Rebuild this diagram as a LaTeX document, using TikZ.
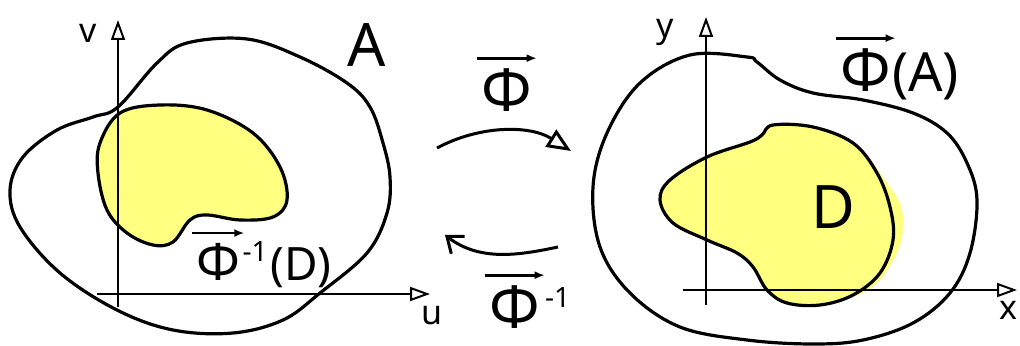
\documentclass[tikz,border=0pt]{standalone}
\usepackage{fontspec}
\setmainfont{Noto Sans}
\usetikzlibrary{arrows.meta}
\definecolor{blobyellow}{RGB}{255,255,128}

\begin{document}
\begin{tikzpicture}[
  x=0.5pt, y=-0.5pt,
  blob/.style={line width=1.6pt, line join=round},
  region/.style={fill=blobyellow, draw=none},
  axis/.style={line width=1pt, -{Triangle[open, length=10pt, width=7pt]}},
  maparr/.style={line width=1.5pt},
  vecbar/.style={line width=1.4pt, -{Latex[length=5pt, width=4pt]}},
  big/.style={inner sep=0pt, font=\fontsize{30}{36}\selectfont},
  mid/.style={inner sep=0pt, font=\fontsize{26}{30}\selectfont},
  lbl/.style={inner sep=0pt, font=\fontsize{23}{27}\selectfont},
  expo/.style={inner sep=0pt, font=\fontsize{14}{16}\selectfont},
  small/.style={font=\fontsize{17}{20}\selectfont}
]
\useasboundingbox (0,0) rectangle (1020,346);

% yellow regions
\fill[region] plot[smooth cycle, tension=0.6] coordinates {
  (120,113) (160,105) (207,110) (253,133) (280,167) (287,200) (273,217)
  (240,220) (207,215) (190,220) (173,242) (153,245) (127,233) (107,210)
  (98,173) (100,143)};
\fill[region] plot[smooth cycle, tension=0.6] coordinates {
  (773,125) (813,127) (853,143) (885,180) (902,210) (900,245) (880,280)
  (853,297) (820,305) (787,303) (767,290) (753,267) (737,253) (707,240)
  (673,223) (660,200) (670,180) (707,157) (750,142) (762,135)};

% axes
\coordinate (uvO) at (118,307);
\coordinate (vtop) at (118,20);
\coordinate (uleft) at (97,294);
\coordinate (uright) at (430,294);
\draw[axis] (uvO) -- (vtop);
\draw[axis] (uleft) -- (uright);

\coordinate (xyO) at (706,305);
\coordinate (ytop) at (706,17);
\coordinate (xleft) at (683,290);
\coordinate (xright) at (1017,290);
\draw[axis] (xyO) -- (ytop);
\draw[axis] (xleft) -- (xright);

% outlines
\draw[blob] plot[smooth cycle, tension=0.6] coordinates {
  (118,107) (157,63) (187,43) (247,39) (300,57) (347,83) (370,107)
  (383,143) (390,177) (387,213) (367,253) (320,293) (283,320) (233,333)
  (173,330) (117,310) (60,273) (20,227) (10,190) (23,157) (57,130) (93,117)};
\draw[blob] plot[smooth cycle, tension=0.6] coordinates {
  (120,113) (160,105) (207,110) (253,133) (280,167) (287,200) (273,217)
  (240,220) (207,215) (190,220) (173,242) (153,245) (127,233) (107,210)
  (98,173) (100,143)};

\draw[blob] plot[smooth cycle, tension=0.6] coordinates {
  (690,55) (747,57) (757,62) (780,80) (813,93) (863,100) (913,113)
  (947,133) (967,163) (977,200) (970,253) (950,293) (913,323) (863,340)
  (813,344) (747,340) (680,327) (630,293) (600,247) (593,187) (607,133)
  (640,83)};
\draw[blob] plot[smooth cycle, tension=0.6] coordinates {
  (773,125) (813,127) (853,143) (877,173) (890,207) (893,240) (880,273)
  (853,295) (820,305) (787,303) (767,290) (753,267) (737,253) (707,240)
  (673,223) (660,200) (670,180) (707,157) (750,142) (762,135)};

% maps
\coordinate (fwdS) at (437,148);
\coordinate (fwdE) at (571,151);
\coordinate (bwdS) at (558,247);
\coordinate (bwdE) at (445,235);
\draw[maparr, -{Triangle[open, length=12pt, width=10pt]}]
  (fwdS) .. controls (480,125) and (530,125) .. (fwdE);
\draw[maparr, -{Straight Barb[length=7pt, width=11pt]}]
  (bwdS) .. controls (520,255) and (480,262) .. (bwdE);

% labels
\node[small] (vlab) at (88,33) {v};
\node[small] (ulab) at (432,316) {u};
\node[small] (ylab) at (665,32) {y};
\node[small] (xlab) at (1008,310) {x};
\node[big] (Alab) at (367,45) {A};
\node[big] (Dlab) at (833,207) {D};

\node[mid] (invphi) at (218,262) {Φ};
\node[expo, anchor=north west] (invexp) at ([shift={(1pt,1pt)}]invphi.north east) {-1};
\node[lbl, anchor=base west] (invD) at ([xshift=1pt]invexp.east |- invphi.base) {(D)};

\node[big] (fwdphi) at (507,90) {Φ};
\node[big] (bwdphi) at (515,307) {Φ};
\node[expo, anchor=north west] (bwdexp) at ([shift={(2pt,-1pt)}]bwdphi.north east) {-1};

\node[big] (imgphi) at (866,70) {Φ};
\node[inner sep=0pt, font=\fontsize{27}{32}\selectfont, anchor=base west]
  (imgA) at (imgphi.base east) {(A)};

\foreach \p in {invphi, fwdphi, bwdphi, imgphi}
  \draw[vecbar] ([shift={(-2pt,5pt)}]\p.north west) -- ([shift={(2pt,5pt)}]\p.north east);

\end{tikzpicture}
\end{document}
